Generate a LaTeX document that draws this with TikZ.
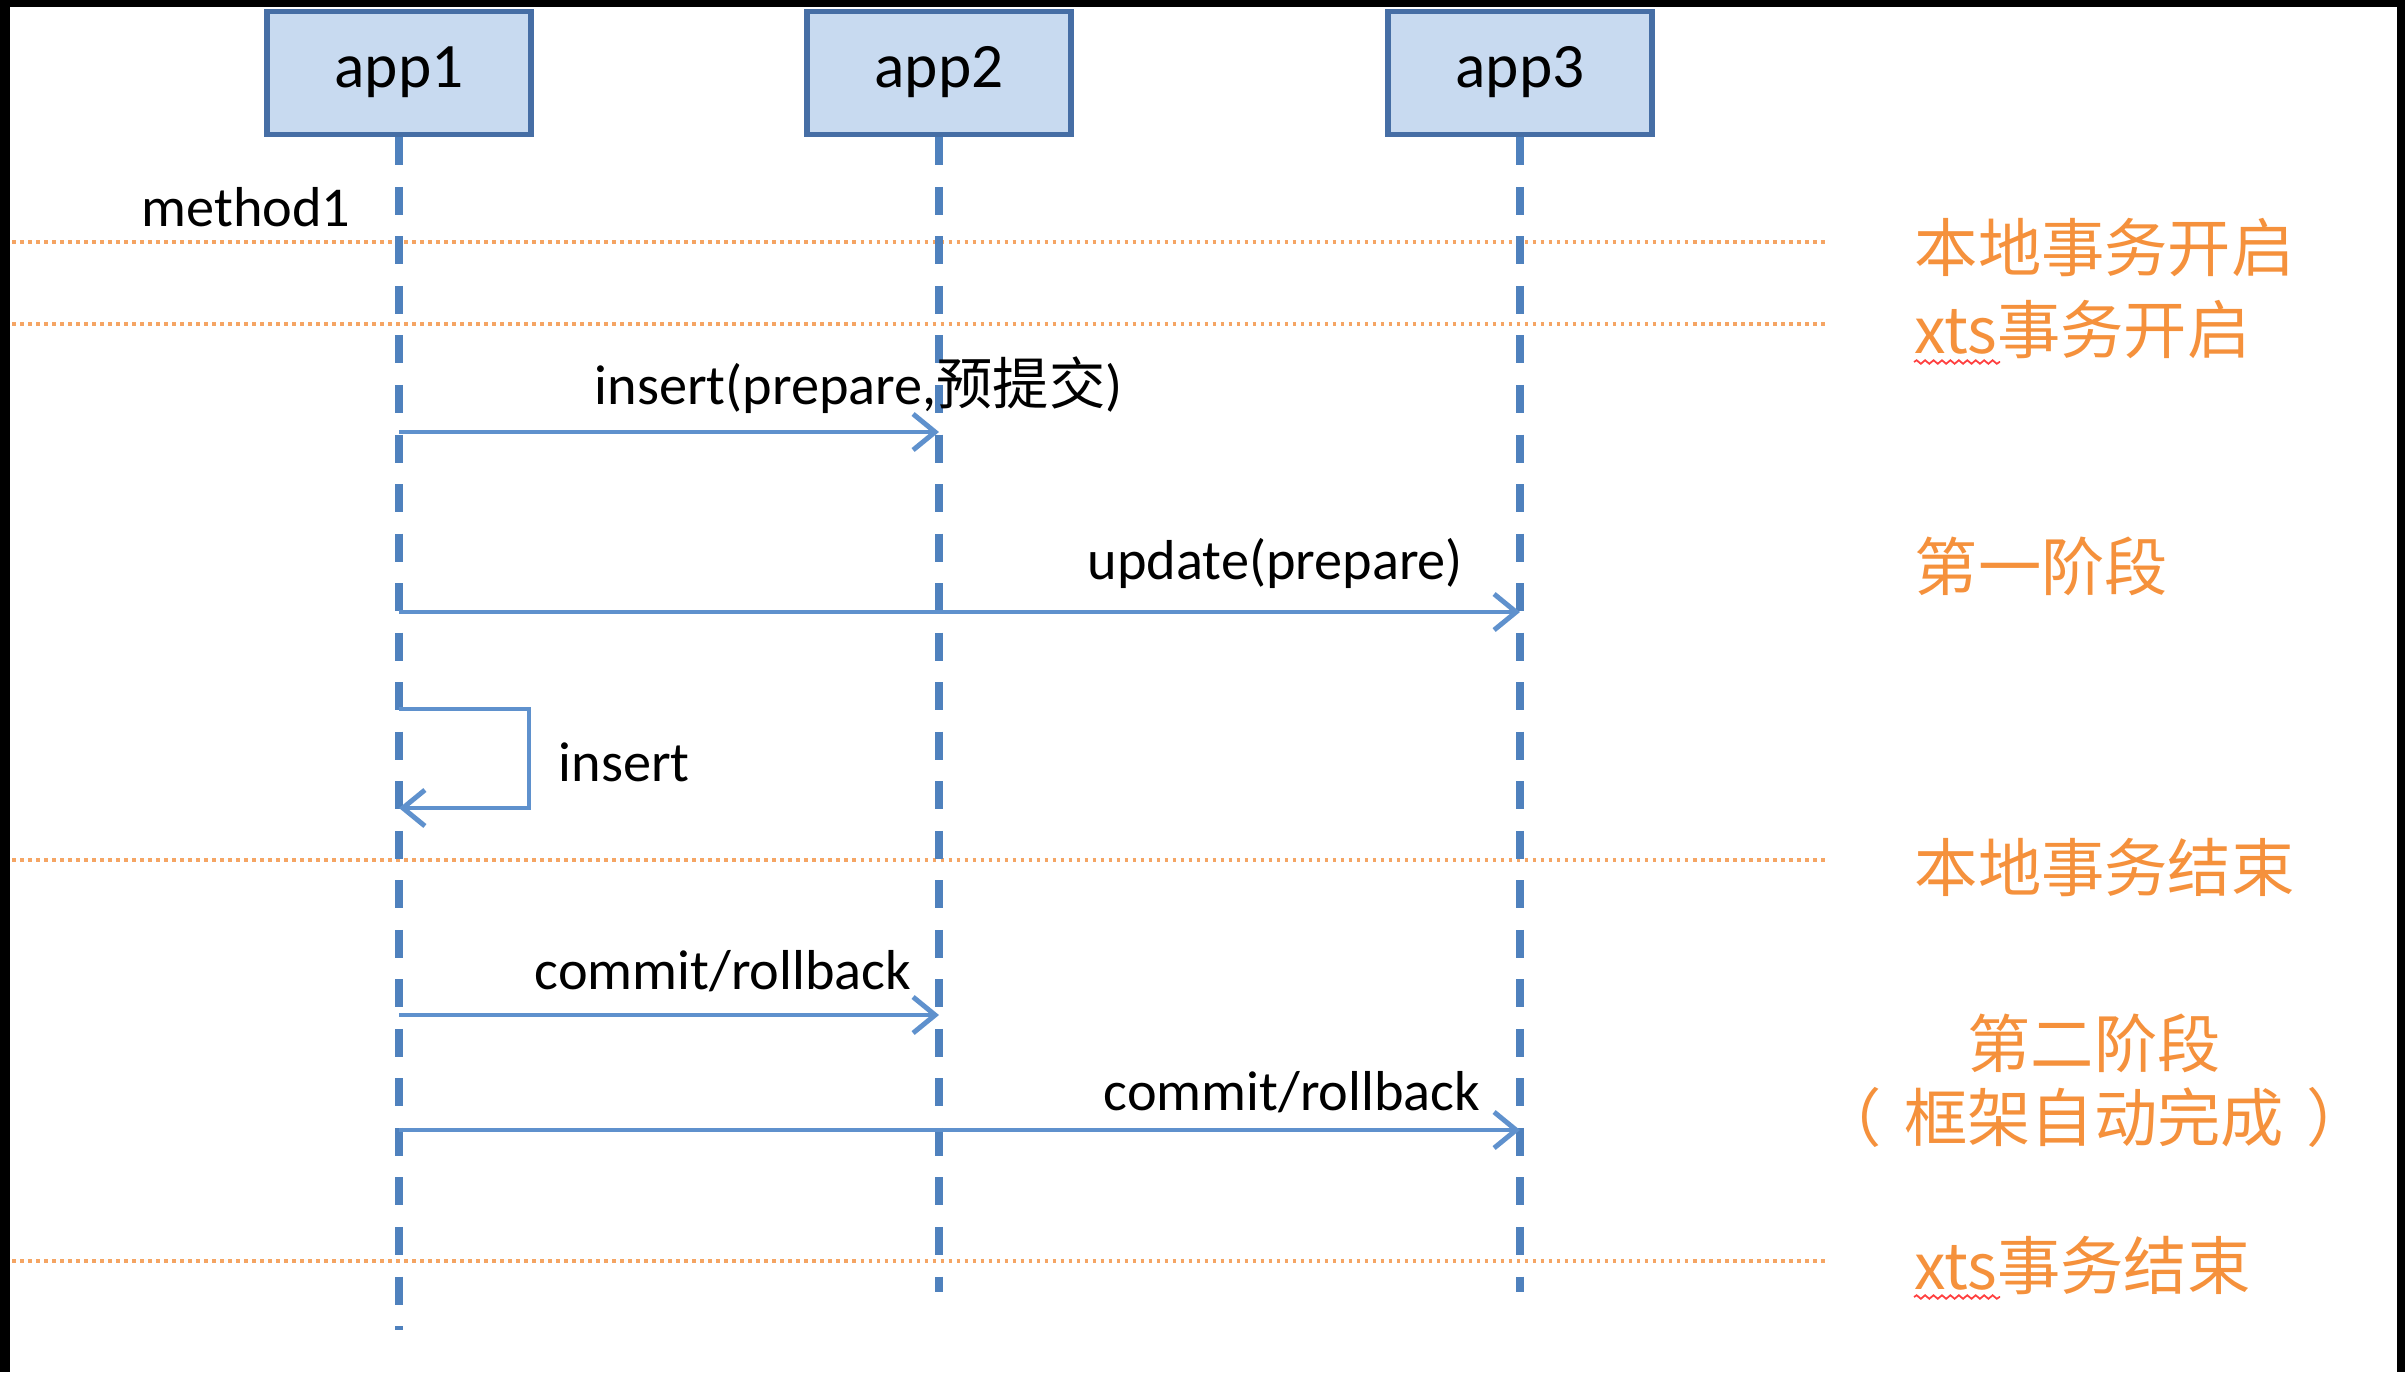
\documentclass[tikz,border=0pt]{standalone}
\usepackage{fontspec}
\setmainfont{Carlito}
\newfontfamily\cjk{Noto Sans CJK SC}
\usetikzlibrary{positioning, arrows.meta, decorations.pathmorphing}
\definecolor{appfill}{RGB}{200,218,240}
\definecolor{appborder}{RGB}{70,110,165}
\definecolor{lifecol}{RGB}{79,129,189}
\definecolor{msgcol}{RGB}{95,145,205}
\definecolor{phasecol}{RGB}{245,145,60}
\definecolor{sepcol}{RGB}{245,165,100}

\begin{document}
\begin{tikzpicture}[
			x=0.01cm,
			y=-0.01cm,
			app/.style={
				draw=appborder,
				fill=appfill,
				line width=1.6pt,
				minimum width=2.64cm,
				minimum height=1.23cm,
				inner sep=0pt,
				text height=0.85em,
				text depth=0pt,
				font=\fontsize{18}{21}\selectfont
			},
			lifeline/.style={
				draw=lifecol,
				line width=2pt,
				dash pattern=on 0.28cm off 0.215cm
			},
			msg/.style={
				draw=msgcol,
				line width=1.4pt,
				-{Straight Barb[length=2.2mm,width=3.6mm]}
			},
			msglabel/.style={
				font=\fontsize{16}{19}\selectfont,
				inner sep=0pt
			},
			sep/.style={
				draw=sepcol,
				line width=1.2pt,
				dash pattern=on 0.035cm off 0.045cm
			},
			phase/.style={
				text=phasecol,
				font=\cjk\fontsize{18}{21}\selectfont,
				inner sep=0pt
			},
			typo/.style={
				draw=red!75,
				line width=0.5pt,
				decorate,
				decoration={snake, amplitude=0.5pt, segment length=2.4pt}
			}
			]
			% Frame
			\fill[black] (0,0) rectangle (2405,1372);
			\fill[white] (10,7) rectangle (2397,1372);
			\useasboundingbox (0,0) rectangle (2405,1372);
			
			% Separators
			\foreach \y in {242,324,860,1261}
				\draw[sep] (12,\y) -- (1828,\y);
			
			% Apps
			\node[app] (app1) at (399,73) {app1};
			\node[app] (app2) at (939,73) {app2};
			\node[app] (app3) at (1520,73) {app3};
			
			% Lifelines
			\coordinate (end1) at (399,1330);
			\coordinate (end2) at (939,1292);
			\coordinate (end3) at (1520,1292);
			\draw[lifeline] (app1.south) -- (end1);
			\draw[lifeline] (app2.south) -- (end2);
			\draw[lifeline] (app3.south) -- (end3);
			
			% Messages
			\coordinate (loopa) at (529,709);
			\coordinate (loopb) at (529,808);
			\draw[msg] (app1 |- 0,432) -- (app2 |- 0,432);
			\draw[msg] (app1 |- 0,612) -- (app3 |- 0,612);
			\draw[msg] (app1 |- loopa) -- (loopa) -- (loopb) -- (app1 |- loopb);
			\draw[msg] (app1 |- 0,1015) -- (app2 |- 0,1015);
			\draw[msg] (app1 |- 0,1130) -- (app3 |- 0,1130);
			
			% Labels
			\node[msglabel, anchor=east] (m0) at (351,207) {method1};
			\node[msglabel, anchor=west] (m1) at (594,385) {insert(prepare,{\cjk 预提交})};
			\node[msglabel, anchor=west] (m2) at (1087,563) {update(prepare)};
			\node[msglabel, anchor=west] (m3) at (558,762) {insert};
			\node[msglabel, anchor=west] (m4) at (534,971) {commit/rollback};
			\node[msglabel, anchor=west] (m5) at (1103,1092) {commit/rollback};
			
			% Phases
			\node[phase, anchor=west] (p1) at (1914,248) {本地事务开启};
			\node[phase, anchor=west] (p2) at (1914,330) {xts事务开启};
			\node[phase, anchor=west] (p3) at (1914,566) {第一阶段};
			\node[phase, anchor=west] (p4) at (1914,867) {本地事务结束};
			\node[phase] (p5) at (2094,1043) {第二阶段};
			\node[phase] (p6) at (2094,1117) {（\hspace{0.35em}框架自动完成\hspace{0.35em}）};
			\node[phase, anchor=west] (p7) at (1914,1265) {xts事务结束};
			\draw[typo] (1914,362) -- (2000,362);
			\draw[typo] (1914,1297) -- (2000,1297);
		\end{tikzpicture}
\end{document}
